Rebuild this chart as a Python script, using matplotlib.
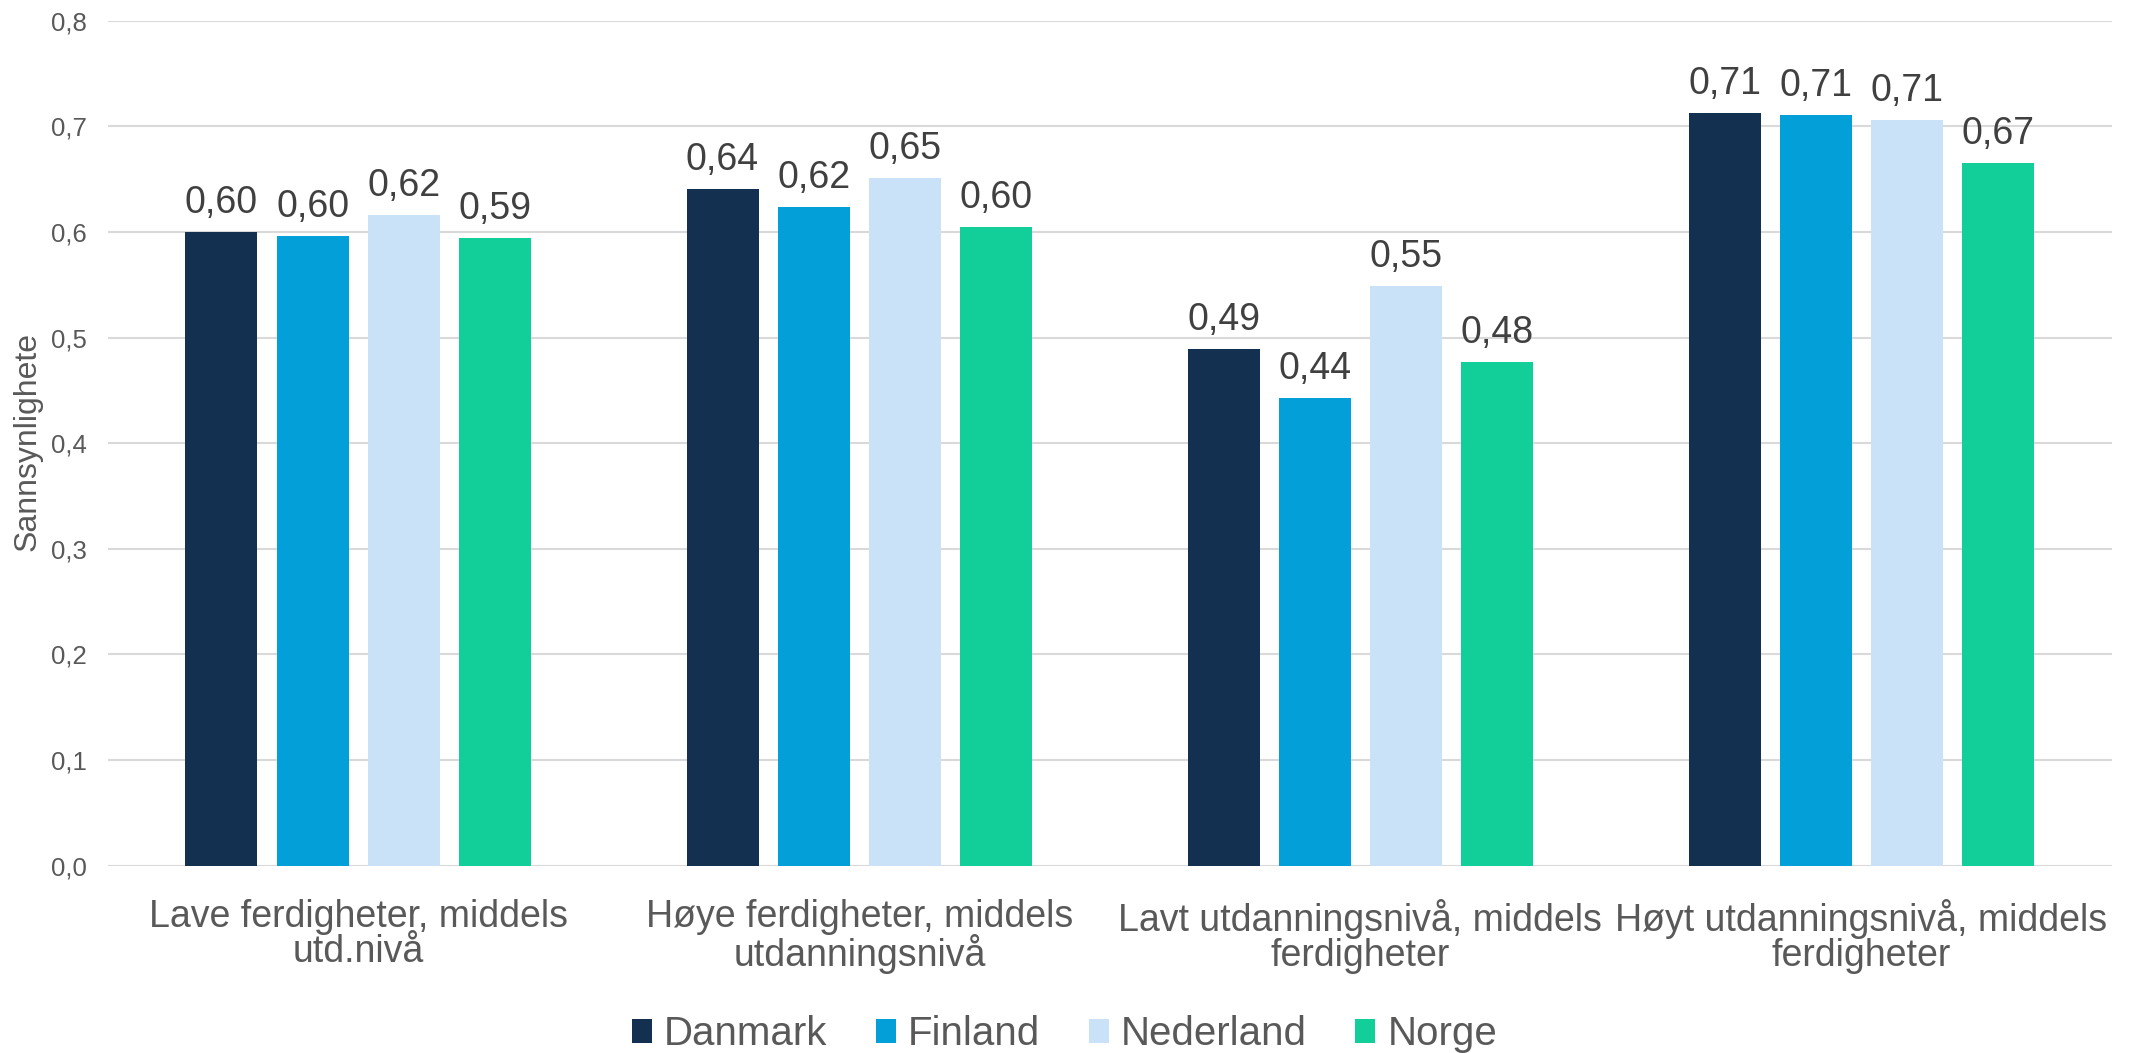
import matplotlib
matplotlib.use("Agg")
import matplotlib.pyplot as plt
import numpy as np
from matplotlib.ticker import FuncFormatter
from matplotlib.patches import Patch

plt.rcParams['font.family'] = ['Liberation Sans', 'DejaVu Sans']

categories = ["Lave ferdigheter, middels\nutd.nivå",
              "Høye ferdigheter, middels\nutdanningsnivå",
              "Lavt utdanningsnivå, middels\nferdigheter",
              "Høyt utdanningsnivå, middels\nferdigheter"]
series_names = ["Danmark", "Finland", "Nederland", "Norge"]
danmark = [0.600, 0.641, 0.489, 0.713]
finland = [0.596, 0.624, 0.443, 0.711]
nederland = [0.616, 0.651, 0.549, 0.706]
norge = [0.594, 0.605, 0.477, 0.665]
yticks = [0.0, 0.1, 0.2, 0.3, 0.4, 0.5, 0.6, 0.7, 0.8]
ylabel = "Sannsynlighete"

colors = ["#143050", "#039FD8", "#C9E2F8", "#12CF9A"]
series = [danmark, finland, nederland, norge]

fig = plt.figure(figsize=(21.29, 10.53), dpi=100)
ax = fig.add_axes([0.0506, 0.1779, 0.9414, 0.8024])

x = np.arange(len(categories))
width = 0.1437
pitch = 0.182
for i, (vals, c, name) in enumerate(zip(series, colors, series_names)):
    pos = x + (i - 1.5) * pitch
    bars = ax.bar(pos, vals, width=width, color=c, label=name, zorder=3)
    labels = [f"{v:.2f}".replace(".", ",") for v in vals]
    ax.bar_label(bars, labels=labels, padding=8, fontsize=27, color="#404040")

ax.set_xlim(-0.5, 3.5)
ax.set_ylim(0, 0.8)
ax.set_yticks(yticks)
ax.yaxis.set_major_formatter(FuncFormatter(lambda v, p: f"{v:.1f}".replace(".", ",")))
ax.set_xticks(x)
ax.set_xticklabels(categories, fontsize=27, color="#595959", linespacing=0.97)
ax.tick_params(axis='y', length=0, pad=15, labelsize=18.5, labelcolor="#595959")
ax.tick_params(axis='x', length=0, pad=24)
for s in ax.spines.values():
    s.set_visible(False)
ax.grid(axis='y', color="#D9D9D9", linewidth=1.5, zorder=0)
ax.set_axisbelow(True)

fig.text(28 / 2129, 1 - 441 / 1053, ylabel, rotation=90, ha='center', va='center',
         fontsize=23, color="#595959")

handles = [Patch(facecolor=c, edgecolor='none') for c in colors]
fig.legend(handles, series_names, loc='center', bbox_to_anchor=(0.5, 1 - 1034 / 1053),
           ncol=4, frameon=False, handlelength=0.5, handleheight=0.55,
           handletextpad=0.3, columnspacing=1.2, labelcolor="#595959",
           prop={'family': ['Liberation Sans'], 'size': 29})

fig.savefig("out.png", dpi=100)
